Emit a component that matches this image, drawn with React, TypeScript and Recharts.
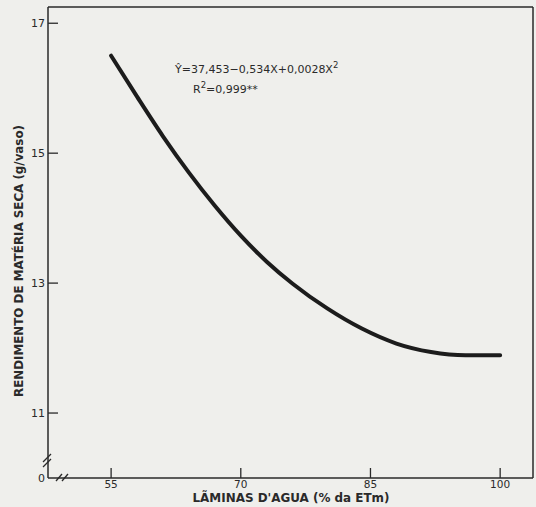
import React from "react";
import { LineChart, Line, XAxis, YAxis, ReferenceLine, Customized } from "recharts";

const laminas = [55, 58, 61, 64, 67, 70, 73, 76, 80, 84, 88, 92, 96, 100];
const rendimento = [16.5, 15.87, 15.26, 14.7, 14.19, 13.73, 13.33, 12.99, 12.61, 12.3, 12.07, 11.94, 11.89, 11.89];

const xTicks = [55, 70, 85, 100];
const yTicks = [10, 11, 13, 15, 17]; // 10 = origem do eixo quebrado, rotulada "0"
const X_LEFT = 47.7;
const X_RIGHT = 103.8;
const Y_BOTTOM = 10;
const Y_TOP = 17.25;

const data = laminas.map((x, i) => ({ x, y: rendimento[i] }));

const INK = "#2a2a2a";
const PAPER = "#efefec";
const FONT = "'DejaVu Sans', 'Liberation Sans', sans-serif";

const XTick = (props: any) => {
  const { x, y, payload } = props;
  return (
    <g>
      <line x1={x} x2={x} y1={y} y2={y - 10} stroke={INK} strokeWidth={1.3} />
      <text x={x} y={y + 10} textAnchor="middle" fontSize={10.5} fontFamily={FONT} fill={INK}>
        {payload.value}
      </text>
    </g>
  );
};

const YTick = (props: any) => {
  const { x, y, payload } = props;
  const origin = payload.value === Y_BOTTOM;
  return (
    <g>
      {!origin && <line x1={x} x2={x + 10} y1={y} y2={y} stroke={INK} strokeWidth={1.3} />}
      <text x={x - 3} y={y} textAnchor="end" dominantBaseline="central" fontSize={11} fontFamily={FONT} fill={INK}>
        {origin ? "0" : payload.value}
      </text>
    </g>
  );
};

// quebras dos eixos, títulos e equação
const Decor = () => (
  <g>
    <rect x={44} y={456} width={8} height={8} fill={PAPER} />
    <line x1={43} y1={462} x2={51} y2={454} stroke={INK} strokeWidth={1.3} />
    <line x1={43} y1={467} x2={51} y2={459} stroke={INK} strokeWidth={1.3} />
    <rect x={58} y={474} width={8} height={8} fill={PAPER} />
    <line x1={56} y1={481} x2={62} y2={474} stroke={INK} strokeWidth={1.3} />
    <line x1={62} y1={481} x2={68} y2={474} stroke={INK} strokeWidth={1.3} />
    <text
      x={19}
      y={261}
      transform="rotate(-90 19 261)"
      textAnchor="middle"
      dominantBaseline="central"
      fontSize={12}
      fontWeight="bold"
      fontFamily={FONT}
      fill={INK}
      textLength={272}
      lengthAdjust="spacingAndGlyphs"
    >
      RENDIMENTO DE MATÉRIA SECA  (g/vaso)
    </text>
    <text
      x={291}
      y={498}
      textAnchor="middle"
      dominantBaseline="central"
      fontSize={12}
      fontWeight="bold"
      fontFamily={FONT}
      fill={INK}
      textLength={197}
      lengthAdjust="spacingAndGlyphs"
    >
      LÃMINAS D'AGUA (% da ETm)
    </text>
    <text x={175} y={73} fontSize={11} fontFamily={FONT} fill={INK}>
      Ŷ=37,453−0,534X+0,0028X
      <tspan dy={-5} fontSize={8.5}>2</tspan>
    </text>
    <text x={193} y={93} fontSize={11} fontFamily={FONT} fill={INK}>
      R<tspan dy={-5} fontSize={8.5}>2</tspan>
      <tspan dy={5}>=0,999**</tspan>
    </text>
  </g>
);

export default function App() {
  return (
    <div style={{ position: "absolute", left: 0, top: 0, width: 536, height: 507, background: PAPER }}>
      <LineChart width={536} height={507} data={data} margin={{ top: 7, right: 3, left: 0, bottom: 0 }}>
        <XAxis
          dataKey="x"
          type="number"
          domain={[X_LEFT, X_RIGHT]}
          ticks={xTicks}
          allowDataOverflow
          height={29}
          tickSize={0}
          tickMargin={0}
          tick={<XTick />}
          axisLine={{ stroke: INK, strokeWidth: 1.5 }}
          tickLine={false}
        />
        <YAxis
          type="number"
          domain={[Y_BOTTOM, Y_TOP]}
          ticks={yTicks}
          allowDataOverflow
          width={48}
          tickSize={0}
          tickMargin={0}
          tick={<YTick />}
          axisLine={{ stroke: INK, strokeWidth: 1.5 }}
          tickLine={false}
        />
        <ReferenceLine y={Y_TOP} stroke={INK} strokeWidth={1.5} />
        <ReferenceLine x={X_RIGHT} stroke={INK} strokeWidth={1.5} />
        <Line
          dataKey="y"
          type="monotone"
          stroke="#1c1c1c"
          strokeWidth={4}
          strokeLinecap="round"
          dot={false}
          isAnimationActive={false}
        />
        <Customized component={<Decor />} />
      </LineChart>
    </div>
  );
}
